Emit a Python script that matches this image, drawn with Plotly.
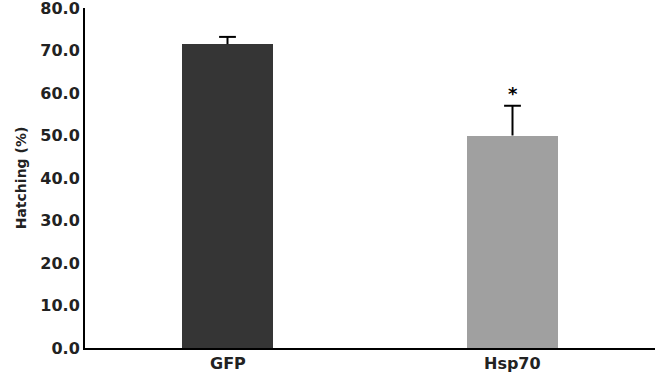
import plotly.graph_objects as go

categories = ["GFP", "Hsp70"]
values = [71.5, 50.0]
errors = [1.7, 7.0]
colors = ["#353535", "#a0a0a0"]
y_ticks = [0, 10, 20, 30, 40, 50, 60, 70, 80]
y_tick_labels = ["0.0", "10.0", "20.0", "30.0", "40.0", "50.0", "60.0", "70.0", "80.0"]
text_color = "#222222"
font_family = "DejaVu Sans"

fig = go.Figure()
fig.add_trace(go.Bar(
    x=categories, y=values, width=0.317,
    marker=dict(color=colors, line=dict(width=0)),
))
# one-sided (upper) error bars: stem + cap
for cat, v, e in zip(categories, values, errors):
    fig.add_trace(go.Scatter(
        x=[cat, cat], y=[v, v + e], mode="lines",
        line=dict(color="black", width=2), hoverinfo="skip",
    ))
    fig.add_trace(go.Scatter(
        x=[cat], y=[v + e], mode="markers",
        marker=dict(symbol="line-ew", size=12, line=dict(color="black", width=2)),
        hoverinfo="skip",
    ))
fig.add_annotation(x="Hsp70", y=values[1] + errors[1], yshift=12, text="*", showarrow=False,
                   font=dict(family=font_family, size=18, color="black", weight="bold"))
for cat in categories:
    fig.add_annotation(x=cat, y=0, yref="y", yanchor="top", yshift=-4, text=cat, showarrow=False,
                       font=dict(family=font_family, size=16, color=text_color, weight="bold"))

fig.update_layout(
    width=657, height=376,
    margin=dict(l=85, r=2, t=8, b=28),
    plot_bgcolor="white", paper_bgcolor="white",
    showlegend=False,
    font=dict(family=font_family, color=text_color),
    bargap=0,
)
fig.update_xaxes(
    range=[-0.5, 1.5], showline=True, linecolor="black", linewidth=2,
    ticks="", showgrid=False, showticklabels=False, automargin=False,
)
fig.update_yaxes(
    range=[0, 80], tickvals=y_ticks, ticktext=y_tick_labels,
    showline=True, linecolor="black", linewidth=2, ticks="", showgrid=False, zeroline=False,
    ticklabeloverflow="allow", automargin=False,
    tickfont=dict(family=font_family, size=16, weight="bold", color=text_color),
    title=dict(text="Hatching (%)", standoff=10,
               font=dict(family=font_family, size=14, weight="bold", color=text_color)),
)

fig.write_html("out.html", config={"displayModeBar": False},
               post_script="document.body.style.margin='0';document.body.style.overflow='hidden';")
